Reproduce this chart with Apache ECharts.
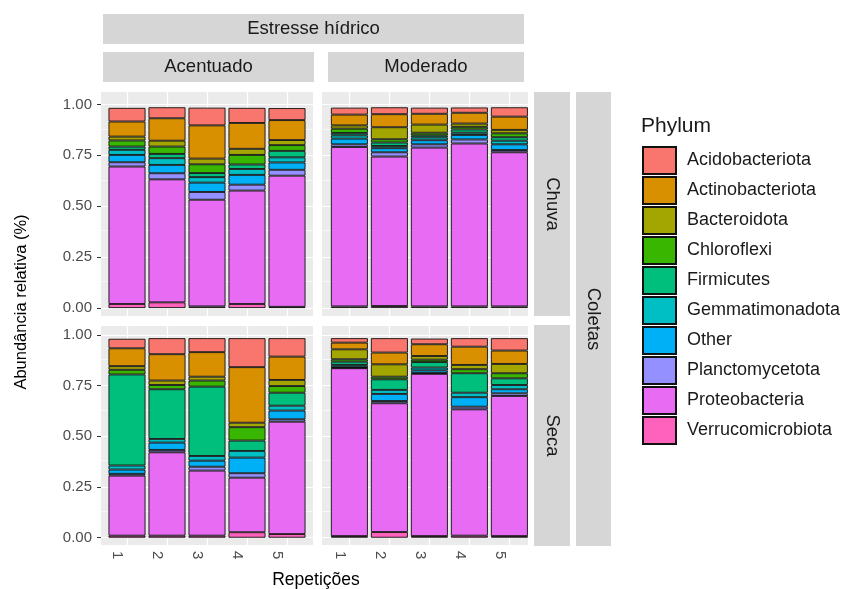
<!DOCTYPE html>
<html>
<head>
<meta charset="utf-8">
<script src="https://cdn.jsdelivr.net/npm/echarts@6/dist/echarts.min.js"></script>
<style>html,body{margin:0;padding:0;background:#fff}#chart{width:848px;height:589px}</style>
</head>
<body>
<div id="chart"></div>
<script>
// ---------- data ----------
const phyla = ['Acidobacteriota','Actinobacteriota','Bacteroidota','Chloroflexi','Firmicutes',
  'Gemmatimonadota','Other','Planctomycetota','Proteobacteria','Verrucomicrobiota'];
const phylumColors = ['#F8766D','#D89000','#A3A500','#39B600','#00BF7D',
  '#00BFC4','#00B0F6','#9590FF','#E76BF3','#FF62BC'];
const repeticoes = [1, 2, 3, 4, 5];
const estresseLevels = ['Acentuado', 'Moderado'];
const coletasLevels = ['Chuva', 'Seca'];
const yTicks = [0, 0.25, 0.5, 0.75, 1];
const yMinorTicks = [0.125, 0.375, 0.625, 0.875];
// value order: Acentuado-Chuva 1..5, Moderado-Chuva 1..5, Acentuado-Seca 1..5, Moderado-Seca 1..5
const acidobacteriota   = [0.067,0.054,0.087,0.074,0.059, 0.034,0.034,0.030,0.026,0.046, 0.047,0.079,0.069,0.143,0.091, 0.022,0.071,0.028,0.042,0.061];
const actinobacteriota  = [0.074,0.110,0.163,0.127,0.098, 0.053,0.064,0.053,0.053,0.065, 0.088,0.130,0.121,0.274,0.115, 0.033,0.058,0.058,0.090,0.066];
const bacteroidota      = [0.019,0.029,0.028,0.030,0.025, 0.016,0.059,0.040,0.016,0.017, 0.018,0.022,0.019,0.022,0.030, 0.049,0.061,0.018,0.021,0.046];
const chloroflexi       = [0.030,0.036,0.043,0.047,0.028, 0.021,0.016,0.013,0.013,0.019, 0.023,0.021,0.030,0.066,0.033, 0.012,0.013,0.012,0.020,0.025];
const firmicutes        = [0.016,0.021,0.020,0.022,0.032, 0.012,0.017,0.010,0.016,0.017, 0.449,0.245,0.342,0.051,0.064, 0.016,0.052,0.027,0.096,0.033];
const gemmatimonadota   = [0.025,0.033,0.027,0.029,0.025, 0.016,0.011,0.014,0.011,0.018, 0.020,0.018,0.023,0.033,0.024, 0.011,0.020,0.014,0.022,0.021];
const other             = [0.036,0.041,0.046,0.048,0.036, 0.028,0.020,0.020,0.022,0.028, 0.021,0.036,0.030,0.077,0.043, 0.003,0.035,0.013,0.047,0.020];
const planctomycetota   = [0.021,0.030,0.038,0.029,0.029, 0.013,0.021,0.016,0.020,0.011, 0.009,0.012,0.019,0.022,0.012, 0.002,0.011,0.004,0.013,0.013];
const proteobacteria    = [0.675,0.604,0.524,0.557,0.644, 0.783,0.734,0.780,0.800,0.757, 0.296,0.411,0.321,0.269,0.554, 0.828,0.635,0.800,0.623,0.691];
const verrucomicrobiota = [0.020,0.028,0.008,0.020,0.006, 0.008,0.010,0.008,0.008,0.008, 0.010,0.010,0.010,0.027,0.018, 0.008,0.028,0.008,0.010,0.008];
const phylumValues = [acidobacteriota, actinobacteriota, bacteroidota, chloroflexi, firmicutes,
  gemmatimonadota, other, planctomycetota, proteobacteria, verrucomicrobiota];

// ---------- layout / style ----------
const FONT = '"Liberation Sans", Arial, Helvetica, sans-serif';
const panels = [
  {left:101, top:92,  width:212, height:224, xMin:0.35,  xMax:5.65,  yMin:-0.039, yMax:1.061, xLab:false, yLab:true},
  {left:322, top:92,  width:206, height:224, xMin:0.315, xMax:5.465, yMin:-0.039, yMax:1.061, xLab:false, yLab:false},
  {left:101, top:326, width:212, height:219, xMin:0.35,  xMax:5.65,  yMin:-0.036, yMax:1.044, xLab:true,  yLab:true},
  {left:322, top:326, width:206, height:219, xMin:0.315, xMax:5.465, yMin:-0.036, yMax:1.044, xLab:true,  yLab:false}
];

const grids = [], xAxes = [], yAxes = [], series = [];
panels.forEach((pd, p) => {
  grids.push({left:pd.left, top:pd.top, width:pd.width, height:pd.height, show:true,
    backgroundColor:'#EBEBEB', borderWidth:0, containLabel:false});
  xAxes.push({type:'value', gridIndex:p, min:pd.xMin, max:pd.xMax,
    axisLine:{show:false}, splitLine:{show:false}, minorSplitLine:{show:false},
    axisTick:{show:pd.xLab, customValues:repeticoes, length:4, lineStyle:{color:'#333333', width:1}},
    axisLabel:{show:pd.xLab, customValues:repeticoes, rotate:-90, margin:6, verticalAlign:'top',
      padding:[2,0,0,0], color:'#4D4D4D', fontSize:15, fontFamily:FONT, formatter:v => String(v)}});
  yAxes.push({type:'value', gridIndex:p, min:pd.yMin, max:pd.yMax,
    axisLine:{show:false}, splitLine:{show:false}, minorSplitLine:{show:false},
    axisTick:{show:pd.yLab, customValues:yTicks, length:4, lineStyle:{color:'#333333', width:1}},
    axisLabel:{show:pd.yLab, customValues:yTicks, margin:9, color:'#4D4D4D', fontSize:15,
      fontFamily:FONT, formatter:v => v.toFixed(2)}});
  // panel grid lines (ggplot style) behind bars
  const major = {color:'#FFFFFF', width:1.2, type:'solid'};
  const minor = {color:'#FFFFFF', width:0.6, type:'solid'};
  series.push({type:'line', name:'__grid' + p, xAxisIndex:p, yAxisIndex:p, data:[], silent:true, z:1,
    markLine:{silent:true, z:1, symbol:['none','none'], animation:false, label:{show:false},
      emphasis:{disabled:true},
      data:[].concat(
        yMinorTicks.map(v => ({yAxis:v, lineStyle:minor})),
        yTicks.map(v => ({yAxis:v, lineStyle:major})),
        repeticoes.map(v => ({xAxis:v, lineStyle:major})))}});
  const from = p * 5;
  for (let i = phyla.length - 1; i >= 0; i--) {
    series.push({type:'bar', name:phyla[i], stack:'panel' + p, xAxisIndex:p, yAxisIndex:p,
      barWidth:37, z:2, encode:{x:1, y:0},
      data:repeticoes.map((r, k) => [phylumValues[i][from + k], r]),
      itemStyle:{color:phylumColors[i], borderColor:'#111111', borderWidth:0.9},
      emphasis:{disabled:true}});
  }
});

// strips
const strips = [
  {x:103, y:14,  w:421, h:30,  text:'Estresse hídrico', rot:0},
  {x:103, y:52,  w:211, h:30,  text:estresseLevels[0], rot:0},
  {x:328, y:52,  w:196, h:30,  text:estresseLevels[1], rot:0},
  {x:534, y:92,  w:36,  h:224, text:coletasLevels[0], rot:-Math.PI/2},
  {x:534, y:325, w:36,  h:221, text:coletasLevels[1], rot:-Math.PI/2},
  {x:576, y:92,  w:35,  h:454, text:'Coletas', rot:-Math.PI/2}
];
const graphics = [];
strips.forEach(s => {
  graphics.push({type:'rect', silent:true, z:0, shape:{x:s.x, y:s.y, width:s.w, height:s.h},
    style:{fill:'#D6D6D6'}});
  graphics.push({type:'text', silent:true, z:10, x:s.x + s.w/2, y:s.y + s.h/2, rotation:s.rot,
    style:{text:s.text, fill:'#1A1A1A', fontSize:18.5, fontFamily:FONT, textAlign:'center', textVerticalAlign:'middle'}});
});
graphics.push({type:'text', silent:true, x:316, y:580,
  style:{text:'Repetições', fill:'#000000', fontSize:17.5, fontFamily:FONT, textAlign:'center', textVerticalAlign:'middle'}});
graphics.push({type:'text', silent:true, x:21, y:302, rotation:Math.PI/2,
  style:{text:'Abundância relativa (%)', fill:'#000000', fontSize:16.5, fontFamily:FONT, textAlign:'center', textVerticalAlign:'middle'}});

const chart = echarts.init(document.getElementById('chart'), null, {renderer:'canvas'});
chart.setOption({
  animation:false,
  backgroundColor:'#FFFFFF',
  title:{text:'Phylum', left:641, top:116, padding:0,
    textStyle:{fontSize:21, fontWeight:'normal', color:'#1A1A1A', fontFamily:FONT}},
  legend:{orient:'vertical', left:642, top:146, padding:0, itemWidth:33, itemHeight:27, itemGap:1,
    icon:'rect', selectedMode:false, data:phyla,
    textStyle:{fontSize:18, color:'#1A1A1A', fontFamily:FONT, padding:[0,0,0,6]}},
  grid:grids, xAxis:xAxes, yAxis:yAxes, series:series,
  graphic:graphics
});
</script>
</body>
</html>
